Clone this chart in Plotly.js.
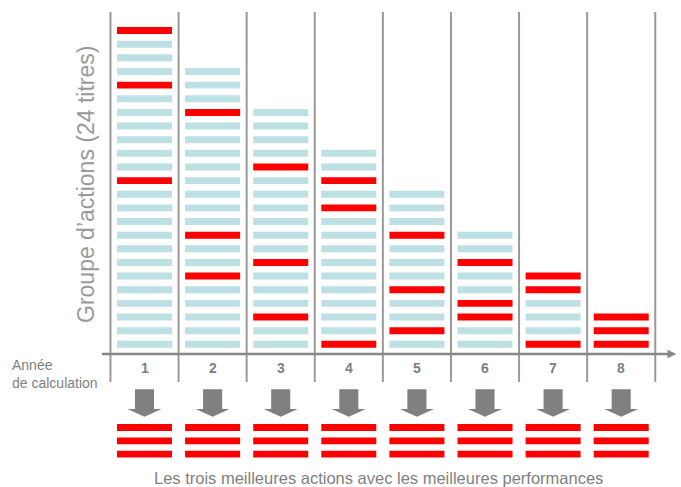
<!DOCTYPE html>
<html>
<head>
<meta charset="utf-8">
<script src="https://cdn.plot.ly/plotly-3.0.1.min.js"></script>
<style>html,body{margin:0;padding:0;background:#fff;}#chart{width:681px;height:487px;}</style>
</head>
<body>
<div id="chart"></div>
<script>
// ---- data ----
const years = [1, 2, 3, 4, 5, 6, 7, 8];
const yearLabels = ["1", "2", "3", "4", "5", "6", "7", "8"];
const stocksPerYear = [24, 21, 18, 15, 12, 9, 6, 3];
// rows (0 = bottom) of the three best stocks in each year
const topRows = [[23, 19, 12], [17, 8, 5], [13, 6, 2], [12, 10, 0], [8, 4, 1], [6, 3, 2], [5, 4, 0], [2, 1, 0]];
const topCount = 3;
const yAxisTitle = "Groupe d’actions (24 titres)";
const xAxisLabel = "Année<br>de calculation";
const footerText = "Les trois meilleures actions avec les meilleures performances";

// ---- styling / layout constants ----
const RED = "#ff0000", BLUE = "#bce0e3";
const barHalf = 0.404, barThick = 0.51;
const bottomRows = [-6.1, -7.08, -8.05];

const ys = [], xs = [], bases = [], colors = [];
years.forEach((yr, i) => {
  for (let r = 0; r < stocksPerYear[i]; r++) {
    ys.push(r); xs.push(2 * barHalf); bases.push(yr - barHalf);
    colors.push(topRows[i].includes(r) ? RED : BLUE);
  }
  for (let j = 0; j < topCount; j++) {
    ys.push(bottomRows[j]); xs.push(2 * barHalf); bases.push(yr - barHalf); colors.push(RED);
  }
});

const traces = [{
  type: "bar", orientation: "h", y: ys, x: xs, base: bases, width: barThick,
  marker: {color: colors, line: {width: 0}}, hoverinfo: "skip"
}];

const shapes = [];
// vertical separators
for (let k = 0; k <= years.length; k++) {
  shapes.push({type: "line", xref: "x", yref: "y", x0: k + 0.5, x1: k + 0.5, y0: 24.36, y1: -2.77,
    line: {color: "#999", width: 2}});
}
// horizontal axis
shapes.push({type: "line", xref: "x", yref: "y", x0: 0.376, x1: 8.72, y0: -0.71, y1: -0.71,
  line: {color: "#888", width: 2.5}});
shapes.push({type: "path", xref: "x", yref: "y", path: "M 8.68 -0.40 L 8.81 -0.71 L 8.68 -1.02 Z",
  fillcolor: "#888", line: {width: 0}});
// down arrows
years.forEach(c => {
  const sw = 0.14, hw = 0.25, top = -3.30, hs = -4.74, tip = -5.31;
  shapes.push({type: "path", xref: "x", yref: "y",
    path: `M ${c - sw} ${top} L ${c + sw} ${top} L ${c + sw} ${hs} L ${c + hw} ${hs} L ${c} ${tip} L ${c - hw} ${hs} L ${c - sw} ${hs} Z`,
    fillcolor: "#808080", line: {width: 0}});
});

const annotations = [];
years.forEach((yr, i) => {
  annotations.push({x: yr, y: -1.74, xref: "x", yref: "y", text: "<b>" + yearLabels[i] + "</b>", showarrow: false,
    xanchor: "center", yanchor: "middle", font: {size: 14, color: "#808080"}});
});
annotations.push({x: 10 / 681, xref: "paper", y: 1 - 374 / 487, yref: "paper", text: xAxisLabel, showarrow: false,
  xanchor: "left", yanchor: "middle", align: "left", font: {size: 14, color: "#808080"}});
annotations.push({x: 86.5 / 681, xref: "paper", y: 1 - 184.5 / 487, yref: "paper", text: yAxisTitle, showarrow: false,
  xanchor: "center", yanchor: "middle", textangle: -90, font: {size: 23, color: "#9a9a9a"}});
annotations.push({x: 378.5 / 681, xref: "paper", y: 1 - 478 / 487, yref: "paper", text: footerText, showarrow: false,
  xanchor: "center", yanchor: "middle", font: {size: 16.5, color: "#7f7f7f"}});

const layout = {
  width: 681, height: 487, margin: {l: 0, r: 0, t: 0, b: 0},
  paper_bgcolor: "#fff", plot_bgcolor: "#fff", showlegend: false, barmode: "overlay",
  font: {family: "Liberation Sans, Arial, sans-serif"},
  xaxis: {range: [-1.122, 8.878], visible: false, fixedrange: true},
  yaxis: {range: [-10.46, 25.24], visible: false, fixedrange: true},
  shapes: shapes, annotations: annotations
};
Plotly.newPlot("chart", traces, layout, {staticPlot: true, displayModeBar: false});
</script>
</body>
</html>
